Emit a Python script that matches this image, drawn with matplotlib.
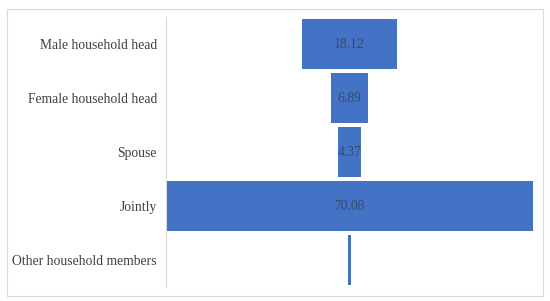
import matplotlib.pyplot as plt
from matplotlib.patches import Rectangle

categories = ['Male household head', 'Female household head', 'Spouse',
              'Jointly', 'Other household members']
values = [18.12, 6.89, 4.37, 70.08, 0.54]
labels = ['18.12', '6.89', '4.37', '70.08', '']

W, H = 550, 301
fig = plt.figure(figsize=(W / 100, H / 100), dpi=100)
fig.patches.append(Rectangle((7 / W, 1 - 296 / H), 536 / W, 287 / H,
                             transform=fig.transFigure, fill=False,
                             edgecolor='#d9d9d9', linewidth=0.8))

ax = fig.add_axes([166 / W, 1 - 287 / H, 367 / W, 270 / H])

pos = list(range(len(categories)))
lefts = [-v / 2 for v in values]
ax.barh(pos, values, left=lefts, height=50 / 54, color='#4472c4')
for p, lab in zip(pos, labels):
    ax.text(0, p, lab, ha='center', va='center', color='#3a4a6a',
            fontsize=9.8, family='Liberation Serif')

half = max(values) / 2
ax.set_xlim(-half, half)
ax.set_ylim(len(categories) - 0.5, -0.5)
ax.set_yticks(pos)
ax.set_yticklabels(categories, family='Liberation Serif', fontsize=9.8,
                   color='#404040')
ax.tick_params(axis='y', length=0, pad=6.5)
ax.set_xticks([])
for s in ['top', 'right', 'bottom']:
    ax.spines[s].set_visible(False)
ax.spines['left'].set_color('#d9d9d9')
ax.spines['left'].set_linewidth(0.8)

fig.savefig('out.png', dpi=100)
